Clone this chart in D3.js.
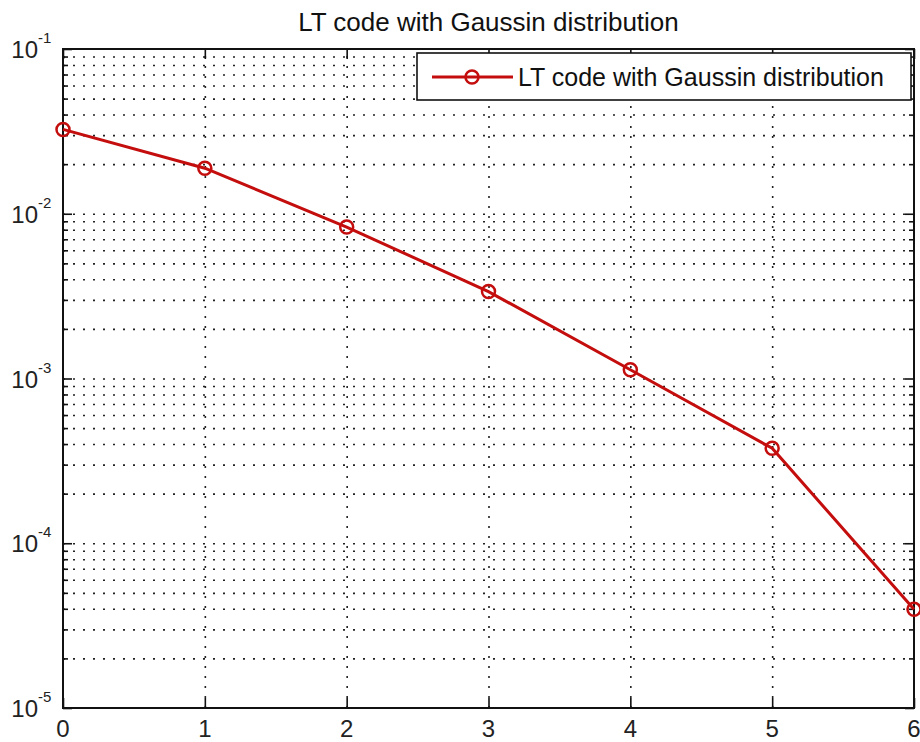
<!DOCTYPE html>
<html>
<head>
<meta charset="utf-8">
<script src="https://cdn.jsdelivr.net/npm/d3@7"></script>
<style>
    body { margin: 0; background: #ffffff; }
    svg { display: block; font-family: "Liberation Sans", Arial, sans-serif; }
    .grid line { stroke: #222; stroke-width: 1.6; stroke-dasharray: 2, 8; }
    .grid .domain { display: none; }
    .ax .domain { stroke: none; }
    .ax line { stroke: #111; stroke-width: 1.6; }
</style>
</head>
<body>
<div id="chart"></div>
<script>
// data
var snrValues = [0, 1, 2, 3, 4, 5, 6];
var berValues = [0.0325, 0.0189, 0.0083, 0.00337, 0.00113, 0.000377, 0.0000397];
var xTickValues = [0, 1, 2, 3, 4, 5, 6];
var yDecades = [1e-5, 1e-4, 1e-3, 1e-2, 1e-1];
var yExponents = ['-5', '-4', '-3', '-2', '-1'];
var titleText = 'LT code with Gaussin distribution';
var legendText = 'LT code with Gaussin distribution';

var W = 920, H = 742;
var margin = { l: 63, r: 6, t: 49, b: 34 };
var pw = W - margin.l - margin.r;
var ph = H - margin.t - margin.b;
var lineColor = '#c40d0d';

// minor values 2..9 x 10^k inside the domain
var yMinor = [];
yDecades.slice(0, -1).forEach(function (d) {
    for (var m = 2; m <= 9; m++) { yMinor.push(m * d); }
});

var x = d3.scaleLinear().domain([0, 6]).range([0, pw]);
var y = d3.scaleLog().domain([1e-5, 1e-1]).range([ph, 0]);

var svg = d3.select('#chart').append('svg')
    .attr('width', W).attr('height', H);

svg.append('rect').attr('width', W).attr('height', H).attr('fill', '#ffffff');

svg.append('text')
    .attr('x', margin.l + pw / 2).attr('y', 31)
    .attr('text-anchor', 'middle')
    .style('font-size', '26px').style('fill', '#111')
    .text(titleText);

var g = svg.append('g').attr('transform', 'translate(' + margin.l + ',' + margin.t + ')');

// dotted grid
g.append('g').attr('class', 'grid')
    .call(d3.axisLeft(y).tickValues(yDecades.concat(yMinor).filter(function (v) {
        return v > 1e-5 && v < 1e-1;
    })).tickSize(-pw).tickFormat(''));
g.append('g').attr('class', 'grid')
    .attr('transform', 'translate(0,' + ph + ')')
    .call(d3.axisBottom(x).tickValues(xTickValues.slice(1, -1)).tickSize(-ph).tickFormat(''));

// inward ticks on all four sides
g.append('g').attr('class', 'ax')
    .call(d3.axisLeft(y).tickValues(yDecades).tickSize(-9).tickFormat(''));
g.append('g').attr('class', 'ax')
    .call(d3.axisLeft(y).tickValues(yMinor).tickSize(-5).tickFormat(''));
g.append('g').attr('class', 'ax').attr('transform', 'translate(' + pw + ',0)')
    .call(d3.axisRight(y).tickValues(yDecades).tickSize(-9).tickFormat(''));
g.append('g').attr('class', 'ax').attr('transform', 'translate(' + pw + ',0)')
    .call(d3.axisRight(y).tickValues(yMinor).tickSize(-5).tickFormat(''));
g.append('g').attr('class', 'ax').attr('transform', 'translate(0,' + ph + ')')
    .call(d3.axisBottom(x).tickValues(xTickValues).tickSize(-10).tickFormat(''));
g.append('g').attr('class', 'ax')
    .call(d3.axisTop(x).tickValues(xTickValues).tickSize(-10).tickFormat(''));

// box
g.append('rect').attr('width', pw).attr('height', ph)
    .attr('fill', 'none').attr('stroke', '#111').attr('stroke-width', 2);

// x tick labels
g.selectAll('.xlab').data(xTickValues).enter().append('text')
    .attr('class', 'xlab')
    .attr('x', function (d) { return x(d); })
    .attr('y', ph + 29)
    .attr('text-anchor', 'middle')
    .style('font-size', '24px').style('fill', '#222')
    .text(function (d) { return d; });

// y tick labels 10^k
yDecades.forEach(function (d, i) {
    g.append('text')
        .attr('x', -25).attr('y', y(d) + 9)
        .attr('text-anchor', 'end')
        .style('font-size', '24px').style('fill', '#222')
        .text('10');
    g.append('text')
        .attr('x', -25).attr('y', y(d) - 6)
        .attr('text-anchor', 'start')
        .style('font-size', '15px').style('fill', '#222')
        .text(yExponents[i]);
});

// data line
var line = d3.line()
    .x(function (d, i) { return x(snrValues[i]); })
    .y(function (d) { return y(d); });

g.append('path').datum(berValues)
    .attr('d', line)
    .attr('fill', 'none')
    .attr('stroke', lineColor)
    .attr('stroke-width', 3);

g.selectAll('.pt').data(berValues).enter().append('circle')
    .attr('class', 'pt')
    .attr('cx', function (d, i) { return x(snrValues[i]); })
    .attr('cy', function (d) { return y(d); })
    .attr('r', 6.5)
    .attr('fill', 'none')
    .attr('stroke', lineColor)
    .attr('stroke-width', 2.5);

// legend
var lg = svg.append('g').attr('transform', 'translate(417,53)');
lg.append('rect').attr('width', 494).attr('height', 47)
    .attr('fill', '#ffffff').attr('stroke', '#111').attr('stroke-width', 1.6);
lg.append('line').attr('x1', 15).attr('x2', 96).attr('y1', 24).attr('y2', 24)
    .attr('stroke', lineColor).attr('stroke-width', 3);
lg.append('circle').attr('cx', 55).attr('cy', 24).attr('r', 6.5)
    .attr('fill', 'none').attr('stroke', lineColor).attr('stroke-width', 2.5);
lg.append('text').attr('x', 101).attr('y', 33)
    .style('font-size', '25px').style('fill', '#111')
    .text(legendText);
</script>
</body>
</html>
